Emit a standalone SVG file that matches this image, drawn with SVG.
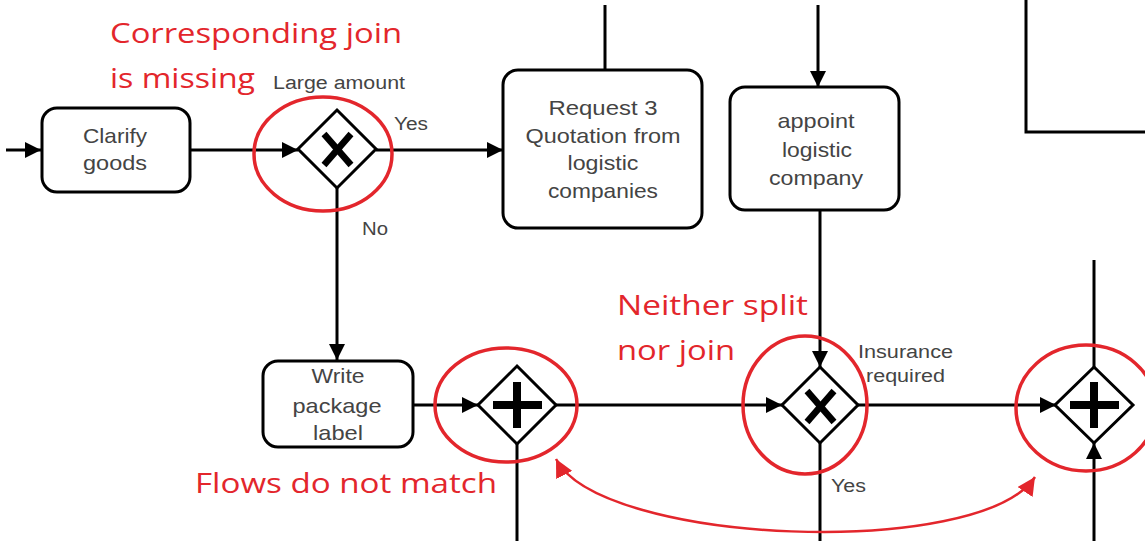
<svg xmlns="http://www.w3.org/2000/svg" width="1145" height="541" viewBox="0 0 1145 541">
  <defs>
    <marker id="arrow" viewBox="0 0 10 10" refX="10" refY="5" markerWidth="16" markerHeight="16" markerUnits="userSpaceOnUse" orient="auto">
      <path d="M0,0 L10,5 L0,10 Z" fill="#000"/>
    </marker>
    <marker id="redArrow" viewBox="0 0 10 10" refX="10" refY="5" markerWidth="18" markerHeight="18" markerUnits="userSpaceOnUse" orient="auto">
      <path d="M0,0 L10,5 L0,10 Z" fill="#e3262c"/>
    </marker>
    <marker id="redArrowStart" viewBox="0 0 10 10" refX="0" refY="5" markerWidth="18" markerHeight="18" markerUnits="userSpaceOnUse" orient="auto">
      <path d="M10,0 L0,5 L10,10 Z" fill="#e3262c"/>
    </marker>
  </defs>
  <style>
    .task { fill: #fff; stroke: #000; stroke-width: 3; }
    .gw { fill: #fff; stroke: #000; stroke-width: 3; }
    .flow { fill: none; stroke: #000; stroke-width: 3; }
    .xmark { stroke: #000; stroke-width: 6.5; stroke-linecap: butt; }
    .plus { fill: #000; }
    .ring { fill: none; stroke: #e3262c; stroke-width: 3.5; }
    .tt { font-family: "Liberation Sans", Arial, sans-serif; font-size: 21px; fill: #444; text-anchor: middle; }
    .lbl { font-family: "Liberation Sans", Arial, sans-serif; font-size: 18px; fill: #444; }
    .note { font-family: "Open Sans", "Noto Sans", sans-serif; font-size: 28px; fill: #e3262c; }
  </style>

  <rect width="1145" height="541" fill="#fff"/>

  <!-- connectors -->
  <g id="connectors">
    <line class="flow" x1="6" y1="150" x2="41" y2="150" marker-end="url(#arrow)"/>
    <line class="flow" x1="190" y1="150" x2="298" y2="150" marker-end="url(#arrow)"/>
    <line class="flow" x1="376" y1="150" x2="503" y2="150" marker-end="url(#arrow)"/>
    <line class="flow" x1="337" y1="188" x2="337" y2="360" marker-end="url(#arrow)"/>
    <line class="flow" x1="605" y1="5" x2="605" y2="70"/>
    <line class="flow" x1="818" y1="5" x2="818" y2="87" marker-end="url(#arrow)"/>
    <line class="flow" x1="820" y1="210" x2="820" y2="367" marker-end="url(#arrow)"/>
    <line class="flow" x1="413" y1="405" x2="478" y2="405" marker-end="url(#arrow)"/>
    <line class="flow" x1="556" y1="405" x2="782" y2="405" marker-end="url(#arrow)"/>
    <line class="flow" x1="858" y1="405" x2="1056" y2="405" marker-end="url(#arrow)"/>
    <line class="flow" x1="517" y1="443" x2="517" y2="541"/>
    <line class="flow" x1="820" y1="443" x2="820" y2="541"/>
    <line class="flow" x1="1094" y1="260" x2="1094" y2="367"/>
    <line class="flow" x1="1094" y1="541" x2="1094" y2="443" marker-end="url(#arrow)"/>
    <!-- edge of a neighbouring element -->
    <polyline class="flow" stroke-width="2.5" points="1026,0 1026,132 1145,132"/>
  </g>

  <!-- tasks -->
  <g id="clarify-goods">
    <rect class="task" x="42" y="108" width="148" height="84" rx="15"/>
    <text class="tt" x="115" y="143" textLength="64" lengthAdjust="spacingAndGlyphs">Clarify</text>
    <text class="tt" x="115" y="170" textLength="64" lengthAdjust="spacingAndGlyphs">goods</text>
  </g>
  <g id="request-quotation">
    <rect class="task" x="503" y="70" width="199" height="158" rx="15"/>
    <text class="tt" x="603" y="115" textLength="109" lengthAdjust="spacingAndGlyphs">Request 3</text>
    <text class="tt" x="603" y="143" textLength="155" lengthAdjust="spacingAndGlyphs">Quotation from</text>
    <text class="tt" x="603" y="170" textLength="71" lengthAdjust="spacingAndGlyphs">logistic</text>
    <text class="tt" x="603" y="198" textLength="110" lengthAdjust="spacingAndGlyphs">companies</text>
  </g>
  <g id="appoint-company">
    <rect class="task" x="730" y="87" width="169" height="123" rx="15"/>
    <text class="tt" x="816" y="128" textLength="77" lengthAdjust="spacingAndGlyphs">appoint</text>
    <text class="tt" x="817" y="157" textLength="70" lengthAdjust="spacingAndGlyphs">logistic</text>
    <text class="tt" x="816" y="185" textLength="94" lengthAdjust="spacingAndGlyphs">company</text>
  </g>
  <g id="write-label">
    <rect class="task" x="263" y="361" width="150" height="86" rx="15"/>
    <text class="tt" x="338" y="383" textLength="53" lengthAdjust="spacingAndGlyphs">Write</text>
    <text class="tt" x="337" y="413" textLength="89" lengthAdjust="spacingAndGlyphs">package</text>
    <text class="tt" x="338" y="440" textLength="50" lengthAdjust="spacingAndGlyphs">label</text>
  </g>

  <!-- gateways -->
  <g id="gw-large-amount">
    <polygon class="gw" points="337,110 376,149 337,188 298,149"/>
    <line class="xmark" x1="324" y1="134" x2="351" y2="165"/>
    <line class="xmark" x1="351" y1="134" x2="324" y2="165"/>
  </g>
  <g id="gw-parallel-1">
    <polygon class="gw" points="517,366 556,405 517,444 478,405"/>
    <rect class="plus" x="493" y="401" width="49" height="8"/>
    <rect class="plus" x="513" y="382" width="8" height="46"/>
  </g>
  <g id="gw-insurance">
    <polygon class="gw" points="820,367 858,405 820,443 782,405"/>
    <line class="xmark" x1="807" y1="391" x2="834" y2="422"/>
    <line class="xmark" x1="834" y1="391" x2="807" y2="422"/>
  </g>
  <g id="gw-parallel-2">
    <polygon class="gw" points="1094,367 1133,405 1094,443 1055,405"/>
    <rect class="plus" x="1070" y="401" width="49" height="8"/>
    <rect class="plus" x="1090" y="382" width="8" height="46"/>
  </g>

  <!-- flow labels -->
  <g id="flow-labels">
    <text class="lbl" x="273" y="89" textLength="132" lengthAdjust="spacingAndGlyphs">Large amount</text>
    <text class="lbl" x="394" y="130" textLength="34" lengthAdjust="spacingAndGlyphs">Yes</text>
    <text class="lbl" x="362" y="235" textLength="26" lengthAdjust="spacingAndGlyphs">No</text>
    <text class="lbl" x="858" y="358" textLength="95" lengthAdjust="spacingAndGlyphs">Insurance</text>
    <text class="lbl" x="866" y="382" textLength="79" lengthAdjust="spacingAndGlyphs">required</text>
    <text class="lbl" x="831" y="492" textLength="35" lengthAdjust="spacingAndGlyphs">Yes</text>
  </g>

  <!-- annotations -->
  <g id="annotations">
    <ellipse class="ring" cx="323" cy="154" rx="69" ry="57"/>
    <ellipse class="ring" cx="506" cy="405" rx="71" ry="57"/>
    <ellipse class="ring" cx="805" cy="405" rx="62" ry="69"/>
    <ellipse class="ring" cx="1086" cy="408" rx="70" ry="63"/>
    <path d="M556,459 C600,545 980,560 1035,477" fill="none" stroke="#e3262c" stroke-width="2.5" marker-start="url(#redArrowStart)" marker-end="url(#redArrow)"/>
    <text class="note" x="110" y="43" textLength="292" lengthAdjust="spacingAndGlyphs">Corresponding join</text>
    <text class="note" x="110" y="88" textLength="145" lengthAdjust="spacingAndGlyphs">is missing</text>
    <text class="note" x="617" y="315" textLength="191" lengthAdjust="spacingAndGlyphs">Neither split</text>
    <text class="note" x="617" y="360" textLength="118" lengthAdjust="spacingAndGlyphs">nor join</text>
    <text class="note" x="195" y="493" textLength="302" lengthAdjust="spacingAndGlyphs">Flows do not match</text>
  </g>
</svg>
